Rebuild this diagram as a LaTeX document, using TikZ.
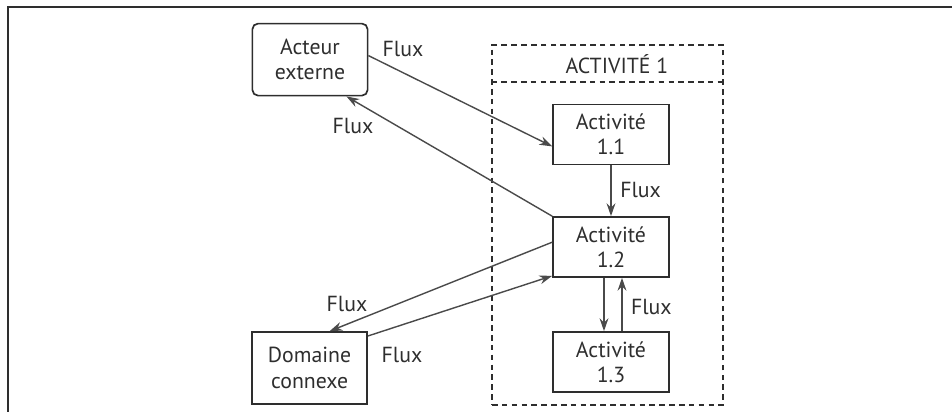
\documentclass[tikz,border=0pt]{standalone}
\usepackage{fontspec}
\setmainfont{PT Sans}
\usetikzlibrary{arrows.meta}

\definecolor{inkgray}{HTML}{2E2E2E}
\definecolor{fluxgray}{HTML}{4A4A4A}

\tikzset{
	txt/.style={text=inkgray,font=\fontsize{15.5}{18}\selectfont},
	actbox/.style={txt,draw=inkgray,line width=1.2pt,align=center,minimum width=2.9cm,minimum height=1.5cm,inner sep=0pt},
	extbox/.style={actbox,minimum width=2.88cm,minimum height=1.8cm},
	dashbox/.style={draw=inkgray,line width=0.9pt,dash pattern=on 4pt off 3pt,minimum width=5.775cm,minimum height=9cm,inner sep=0pt},
	flux/.style={draw=fluxgray,line width=1pt,-{Stealth[length=3.2mm,width=2.2mm]}},
	fluxlbl/.style={txt,inner sep=0pt}
}

\begin{document}
\begin{tikzpicture}
			\useasboundingbox (0,0) rectangle (23.8,10.3);
			% page frame
			\draw[line width=1.4pt,inkgray] (0.2,0) -- (0.2,10.125) -- (23.8,10.125);

			% activity 1 (dashed group)
			\node[dashbox] (act1) at (15.1875,4.675) {};
			\draw[dashbox] (act1.west |- 0,8.25) -- (act1.east |- 0,8.25);
			\node[txt] (act1title) at (15.425,8.7) {ACTIVITÉ 1};

			% boxes
			\node[extbox,rounded corners=4pt] (acteur) at (7.75,8.81) {Acteur\\externe};
			\node[extbox] (domaine) at (7.74,1.1) {Domaine\\connexe};
			\node[actbox] (act11) at (15.275,6.94) {Activité\\1.1};
			\node[actbox] (act12) at (15.275,4.125) {Activité\\1.2};
			\node[actbox] (act13) at (15.275,1.25) {Activité\\1.3};

			% flows with the external actor
			\draw[flux] ([yshift=1mm]acteur.east) -- ([yshift=-3mm]act11.west);
			\draw[flux] (act12.north west) -- ([xshift=-5.5mm]acteur.south east);
			\node[fluxlbl] (flux1) at (10.075,9.075) {Flux};
			\node[fluxlbl] (flux2) at (8.825,7.15) {Flux};

			% flows inside activity 1
			\draw[flux] (act11.south) -- (act12.north);
			\draw[flux] ([xshift=-1.75mm]act12.south) -- ([xshift=-1.75mm]act13.north);
			\draw[flux] ([xshift=2.75mm]act13.north) -- ([xshift=2.75mm]act12.south);
			\node[fluxlbl,anchor=west] (flux3) at (15.5,5.55) {Flux};
			\node[fluxlbl,anchor=west] (flux4) at (15.77,2.625) {Flux};

			% flows with the related domain
			\draw[flux] ([yshift=1.2mm]act12.west) -- ([xshift=5mm]domaine.north);
			\draw[flux] ([yshift=-1.2mm]domaine.north east) -- ([yshift=0.5mm]act12.south west);
			\node[fluxlbl] (flux5) at (8.675,2.7) {Flux};
			\node[fluxlbl] (flux6) at (10.05,1.425) {Flux};
\end{tikzpicture}
\end{document}
